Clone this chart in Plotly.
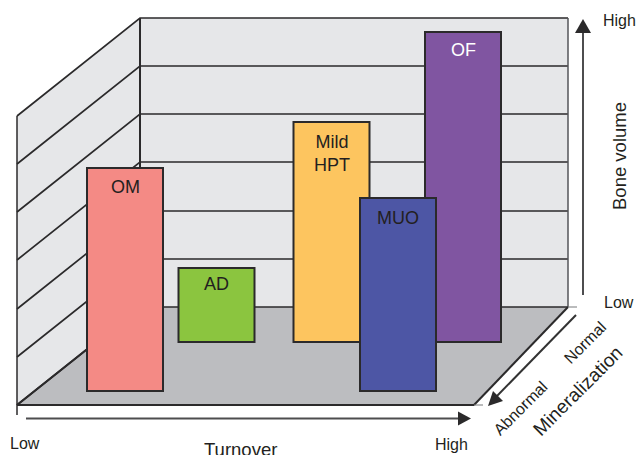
import plotly.graph_objects as go

# Data (axis units: x = turnover, y = bone volume)
categories = ["OM", "AD", "Mild<br>HPT", "OF", "MUO"]
turnover = [125, 216.5, 331.5, 463, 398]
bone_bottom = [64, 113, 113, 113, 64]
bone_top = [287, 187, 333, 423, 257]
bar_colors = ["#F48A85", "#8BC53F", "#FDC55F", "#8055A1", "#4D56A5"]
label_colors = ["#231F20", "#231F20", "#231F20", "#FFFFFF", "#231F20"]
label_drop = [19, 16, 20, 18, 20]
grid_levels = [148, 196, 244, 293, 341, 389, 437]

INK = "#2B2A2B"
WALL = "#E6E7E9"
FLOOR = "#BCBDC0"
FONT = "Liberation Sans"
W, H = 636, 455
BAR_W = 76
LEFT_BACK, LEFT_FRONT, RIGHT_BACK, RIGHT_FRONT = 140, 17, 568, 474
DEPTH = 98

fig = go.Figure()
fig.add_trace(go.Bar(
    x=turnover,
    y=[t - b for t, b in zip(bone_top, bone_bottom)],
    base=bone_bottom,
    width=BAR_W,
    marker=dict(color=bar_colors, line=dict(color=INK, width=2)),
    hoverinfo="skip",
))


def poly(points, fill=None, line=INK, width=0, layer="below"):
    path = "M " + " L ".join(f"{x} {y}" for x, y in points)
    if fill:
        path += " Z"
    return dict(type="path", path=path, xref="x", yref="y", layer=layer,
                fillcolor=fill or "rgba(0,0,0,0)",
                line=dict(color=line, width=width))


bottom, top = grid_levels[0], grid_levels[-1]
shapes = [
    poly([(LEFT_BACK, top), (RIGHT_BACK, top), (RIGHT_BACK, bottom), (LEFT_BACK, bottom)], WALL),
    poly([(LEFT_FRONT, top - DEPTH), (LEFT_BACK, top), (LEFT_BACK, bottom), (LEFT_FRONT, bottom - DEPTH)], WALL),
    poly([(LEFT_FRONT, bottom - DEPTH), (LEFT_BACK, bottom), (RIGHT_BACK, bottom), (RIGHT_FRONT, bottom - DEPTH)], FLOOR),
]
for g in grid_levels:
    shapes.append(poly([(LEFT_FRONT, g - DEPTH), (LEFT_BACK, g), (RIGHT_BACK, g)], width=1.7))
shapes += [
    poly([(LEFT_FRONT, top - DEPTH), (LEFT_FRONT, 40)], width=1.5),
    poly([(LEFT_BACK, top), (LEFT_BACK, bottom)], width=2),
    poly([(RIGHT_BACK, top), (RIGHT_BACK, bottom)], width=1.5, line="#55565A"),
    poly([(LEFT_FRONT, bottom - DEPTH), (RIGHT_FRONT, bottom - DEPTH)], width=2),
    poly([(LEFT_FRONT, bottom - DEPTH), (LEFT_BACK, bottom)], width=2),
    poly([(RIGHT_FRONT, bottom - DEPTH), (RIGHT_BACK, bottom)], width=2),
    poly([(RIGHT_FRONT, bottom - DEPTH), (483, bottom - DEPTH)], width=1, line="#77787B"),
    poly([(RIGHT_BACK, bottom), (577, bottom)], width=1, line="#77787B"),
    # axis arrows
    poly([(26, 36.5), (460, 36.5)], width=2, line="#4D4D4F"),
    poly([(471, 36.5), (458, 43.5), (458, 29.5)], INK),
    poly([(583, 160), (583, 425)], width=2, line="#4D4D4F"),
    poly([(583, 436), (575, 422), (591, 422)], INK),
    poly([(576, 140), (496, 58)], width=2, line="#333333"),
    poly([(488, 49), (493, 64), (503, 54)], INK),
]


def txt(x, y, s, size, color="#231F20", angle=0):
    return dict(x=x, y=y, text=s, showarrow=False, textangle=angle, xref="x", yref="y",
                xanchor="center", yanchor="middle", align="center",
                font=dict(family=FONT, size=size, color=color))


ann = [
    txt(t, tp - d, c, 18, col)
    for t, tp, c, col, d in zip(turnover, bone_top, categories, label_colors, label_drop)
]
ann[2]["y"] = 455 - 153
ann += [
    txt(25, 12, "Low", 16),
    txt(240, 6, "Turnover", 18.5),
    txt(451, 11, "High", 16),
    txt(619, 435, "High", 16),
    txt(619, 153, "Low", 16),
    txt(619, 299, "Bone volume", 18.5, angle=-90),
    txt(585, 113, "Normal", 16, angle=-45),
    txt(520, 47, "Abnormal", 16, angle=-45),
    txt(577, 64, "Mineralization", 19, angle=-45),
]

fig.update_layout(
    width=W, height=H, autosize=False,
    margin=dict(l=0, r=0, t=0, b=0),
    paper_bgcolor="white", plot_bgcolor="white",
    showlegend=False, shapes=shapes, annotations=ann,
    xaxis=dict(range=[0, W], visible=False, fixedrange=True),
    yaxis=dict(range=[0, H], visible=False, fixedrange=True),
)
fig.write_html("out.html", config=dict(displayModeBar=False),
               post_script="document.body.style.margin='0';document.documentElement.style.overflow='hidden';window.dispatchEvent(new Event('resize'));")
